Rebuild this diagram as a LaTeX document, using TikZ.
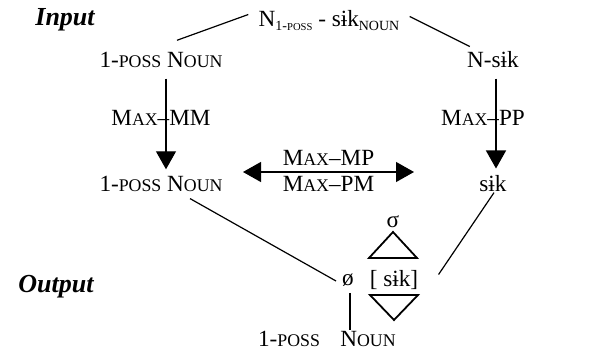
\documentclass[tikz,border=0pt]{standalone}
\usepackage{fontspec}
\setmainfont{Liberation Serif}
\usepackage{tikz}
\usetikzlibrary{shapes,arrows,arrows.meta}

\newcommand{\sce}[1]{{\fontsize{8.9}{10}\selectfont #1}}
\newcommand{\subs}[1]{\raisebox{-0.35ex}{\fontsize{7}{8}\selectfont #1}}
\newcommand{\subsce}[1]{{\fontsize{5.3}{6}\selectfont #1}}

\begin{document}
\begin{tikzpicture}[x=0.5pt,y=-0.5pt,>={Triangle[length=9pt,width=10pt]}]
	\tikzstyle{word} = [inner sep=0pt, anchor=base, font=\fontsize{11.6}{14}\selectfont]
	\tikzstyle{level} = [inner sep=0pt, anchor=base west, font=\fontsize{13}{15}\selectfont\bfseries\itshape]
	\tikzstyle{link} = [line width=0.6pt]
	\tikzstyle{tri} = [line width=0.9pt, line join=miter]
	\useasboundingbox (0,0) rectangle (611,352);
	%Levels
	\node [level] at (35,26) (input) {Input};
	\node [level] at (18,293) (output) {Output};
	%Input forms
	\node [word] at (329,27) (full) {N\subs{1-\subsce{POSS}} - sɨk\subs{NOUN}};
	\node [word] at (161,68) (poss1) {1-\sce{POSS} N\sce{OUN}};
	\node [word] at (493,68) (nsik1) {N-sɨk};
	\node [word] at (161,192) (poss2) {1-\sce{POSS} N\sce{OUN}};
	\node [word] at (493,192) (sik2) {sɨk};
	%Constraint labels
	\node [word] at (161,126) (maxmm) {M\sce{AX}–MM};
	\node [word] at (483,126) (maxpp) {M\sce{AX}–PP};
	\coordinate (mpl) at (243,172);
	\coordinate (mpr) at (414,172);
	%Output form
	\node [word] at (348,286) (null) {ø};
	\node [word] at (394,287) (stem) {[ sɨk]};
	\node [word] at (393,228) (syl) {σ};
	\node [word] at (289,347) (poss3) {1-\sce{POSS}};
	\node [word] at (368,347) (noun3) {N\sce{OUN}};
	%Connecting forms
	\begin{scope}[link]
	\draw ([shift={(16,-12)}]poss1.north) -- ([shift={(-10,4)}]full.north west);
	\draw ([shift={(10,6)}]full.north east) -- ([shift={(3,-5)}]nsik1.north west);
	\draw[->] ([shift={(5,10)}]poss1.south) -- ([shift={(5,-7)}]poss2.north);
	\draw[->] ([shift={(3,10)}]nsik1.south) -- ([shift={(3,-7)}]sik2.north);
	\draw[<->] (mpl) -- node[above, inner sep=3pt, font=\fontsize{11.6}{14}\selectfont] {M\sce{AX}–MP}
		node[below, inner sep=2pt, font=\fontsize{11.6}{14}\selectfont] {M\sce{AX}–PM} (mpr);
	\draw ([shift={(29,6)}]poss2.south) -- ([shift={(-12,-5)}]null.base);
	\draw ([shift={(1,0)}]sik2.south) -- ([shift={(20,-6)}]stem.east);
	\draw ([shift={(2,7)}]null.base) -- ([shift={(61,-17)}]poss3.base);
	\end{scope}
	\draw[tri] ([shift={(0,4)}]syl.base) -- ++(-24,26) -- ++(48,0) -- cycle;
	\draw[tri] ([shift={(-24,8)}]stem.base) -- ++(48,0) -- ++(-24,25) -- cycle;
\end{tikzpicture}
\end{document}
